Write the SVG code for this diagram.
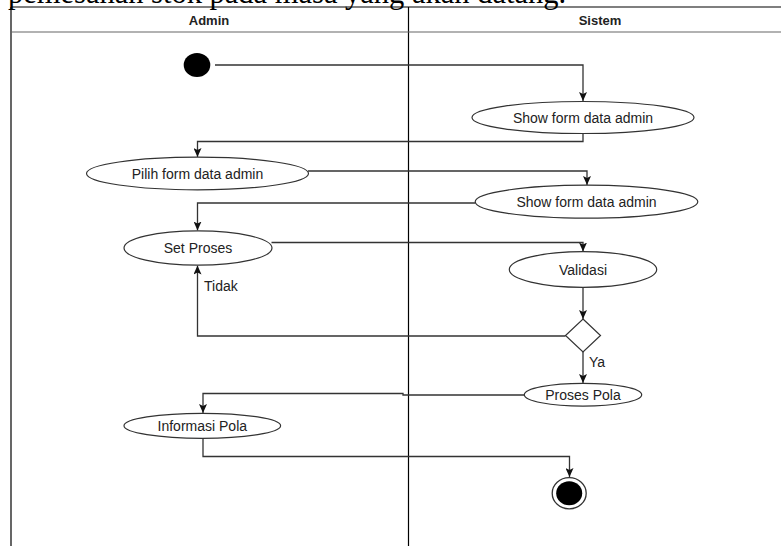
<svg xmlns="http://www.w3.org/2000/svg" width="781" height="546" viewBox="0 0 781 546">
  <style>
    .frame { fill: none; stroke: #000; stroke-width: 1.2; }
    .hdr-line { stroke: #666; stroke-width: 1.2; }
    .hdr { font-family: "Liberation Sans", Arial, sans-serif; font-size: 13px; font-weight: bold; fill: #222; text-anchor: middle; }
    .act { fill: #fff; stroke: #333; stroke-width: 1.2; }
    .lbl { font-family: "Liberation Sans", Arial, sans-serif; font-size: 14px; fill: #222; text-anchor: middle; dominant-baseline: central; }
    .edge-lbl { font-family: "Liberation Sans", Arial, sans-serif; font-size: 14px; fill: #222; dominant-baseline: central; }
    .edge { fill: none; stroke: #333; stroke-width: 1.3; marker-end: url(#arrow); }
    .title { font-family: "Liberation Serif", "Times New Roman", serif; font-size: 30.5px; fill: #000; }
  </style>
  <defs>
    <marker id="arrow" viewBox="0 0 9 8" refX="9" refY="4" markerWidth="9" markerHeight="8" markerUnits="userSpaceOnUse" orient="auto">
      <path d="M0,0 L9,4 L0,8 L2,4 z" fill="#111"/>
    </marker>
  </defs>
  <rect width="781" height="546" fill="#fff"/>

  <!-- running text of the page, clipped by the top edge -->
  <text class="title" x="8" y="3">pemesanan stok pada masa yang akan datang.</text>

  <!-- swimlane frame -->
  <g id="lanes">
    <line class="frame" x1="11" y1="7" x2="781" y2="7"/>
    <line class="frame" x1="11" y1="7" x2="11" y2="546"/>
    <line class="frame" x1="408.5" y1="7" x2="408.5" y2="546"/>
    <line class="hdr-line" x1="11" y1="32" x2="781" y2="32"/>
    <text class="hdr" x="209" y="25">Admin</text>
    <text class="hdr" x="600" y="25">Sistem</text>
  </g>

  <!-- connectors -->
  <g id="connectors">
    <path class="edge" d="M215,65 H583 V101"/>
    <path class="edge" d="M583,133 V141.5 H197.5 V157"/>
    <path class="edge" d="M308,171 H587 V185"/>
    <path class="edge" d="M475,203 H197.5 V230.5"/>
    <path class="edge" d="M271.5,242.5 H583 V251.5"/>
    <path class="edge" d="M583,287 V319"/>
    <path class="edge" d="M565.5,336 H197.5 V265.5"/>
    <path class="edge" d="M583,351.5 V383"/>
    <path class="edge" d="M524.5,395 H403 V393.5 H203 V413"/>
    <path class="edge" d="M203,438.5 V456.5 H569.5 V477"/>
    <text class="edge-lbl" x="204" y="286">Tidak</text>
    <text class="edge-lbl" x="589" y="361.5">Ya</text>
  </g>

  <!-- nodes -->
  <g id="start">
    <ellipse cx="197" cy="65" rx="13.3" ry="12" fill="#000"/>
  </g>
  <g id="show-form-1">
    <ellipse class="act" cx="583" cy="117.5" rx="111" ry="16"/>
    <text class="lbl" x="583" y="118">Show form data admin</text>
  </g>
  <g id="pilih-form">
    <ellipse class="act" cx="197.5" cy="173.5" rx="111" ry="16.3"/>
    <text class="lbl" x="197.5" y="174">Pilih form data admin</text>
  </g>
  <g id="show-form-2">
    <ellipse class="act" cx="586.5" cy="201.7" rx="111.3" ry="16.5"/>
    <text class="lbl" x="586.5" y="202">Show form data admin</text>
  </g>
  <g id="set-proses">
    <ellipse class="act" cx="198" cy="248" rx="74" ry="17.2"/>
    <text class="lbl" x="198" y="248">Set Proses</text>
  </g>
  <g id="validasi">
    <ellipse class="act" cx="583" cy="269.5" rx="73.7" ry="17.8"/>
    <text class="lbl" x="583" y="270">Validasi</text>
  </g>
  <g id="decision">
    <polygon class="act" points="583,319 600.5,335.5 583,352 565.5,335.5"/>
  </g>
  <g id="proses-pola">
    <ellipse class="act" cx="583" cy="394.7" rx="58.7" ry="11.4"/>
    <text class="lbl" x="583" y="395">Proses Pola</text>
  </g>
  <g id="informasi-pola">
    <ellipse class="act" cx="202.3" cy="425.8" rx="78.3" ry="12.5"/>
    <text class="lbl" x="202.3" y="426">Informasi Pola</text>
  </g>
  <g id="end">
    <ellipse cx="569.2" cy="493.3" rx="17" ry="15.6" fill="#fff" stroke="#333" stroke-width="1.3"/>
    <ellipse cx="569.2" cy="493.3" rx="13" ry="12" fill="#000"/>
  </g>
</svg>
